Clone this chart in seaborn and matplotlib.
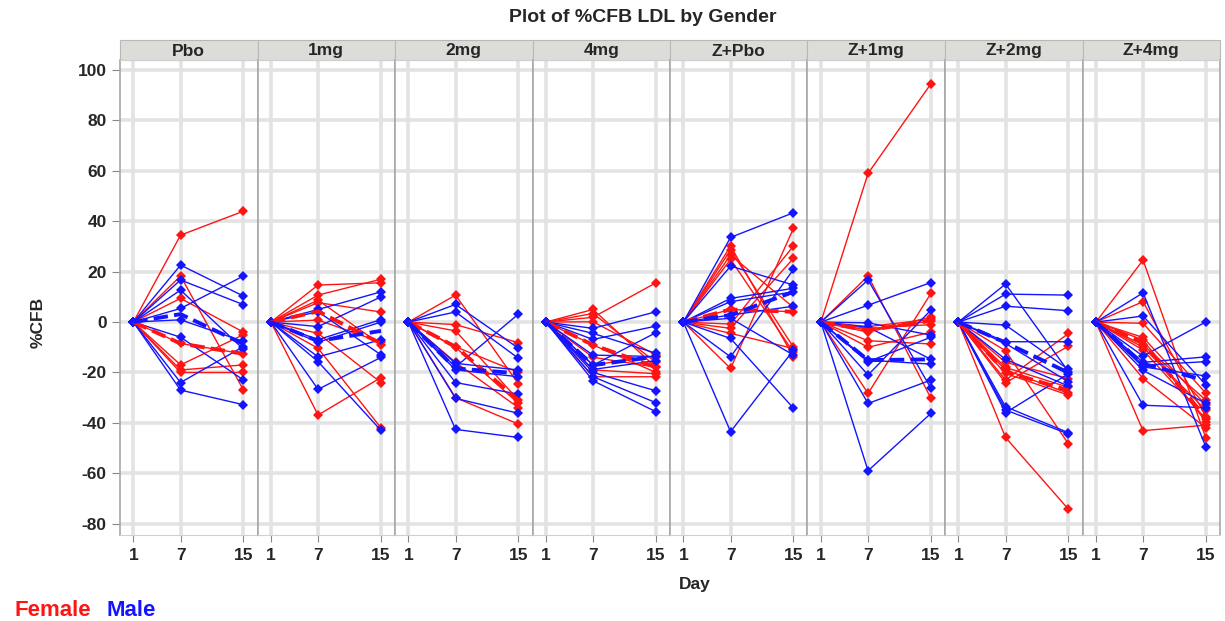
import matplotlib
matplotlib.use('Agg')

import pandas as pd
import matplotlib.pyplot as plt
import seaborn as sns
from matplotlib.patches import Rectangle

panels = ["Pbo", "1mg", "2mg", "4mg", "Z+Pbo", "Z+1mg", "Z+2mg", "Z+4mg"]
days = [1, 7, 15]

# %CFB per subject as (day 7, day 15); day 1 is the baseline (0)
pbo_female = [(34.5, 44), (18.3, -27), (9.4, -4), (-8.5, -12.6), (-17, -5), (-19, -17), (-20, -20)]
pbo_male = [(22.6, 10.3), (16.7, 6.9), (12.7, -10.8), (5.4, 18.3), (0.9, -7.7), (-6, -23), (-24, -9.7), (-27, -32.8)]

mg1_female = [(14.7, 15.6), (10.7, 17), (8.7, -9), (7.7, 4), (0.8, -8), (-4.5, -24), (-10.4, -42), (-36.9, -22)]
mg1_male = [(5, 12), (4.1, -13), (-1.8, 10), (-7, 1), (-8, 0), (-13.8, -7), (-15.7, -43), (-26.7, -14)]

mg2_female = [(10.7, -24.6), (-1, -8.2), (-3.5, -31), (-9.8, -20), (-10, -32.3), (-16, -34), (-30, -40.5)]
mg2_male = [(7, -10.4), (4, -14.4), (-16.4, -19), (-17.8, 3.2), (-19, -21.7), (-24, -28.6), (-30.3, -36.2), (-42.6, -45.8)]

mg4_female = [(5, -18), (3.4, -16), (1.9, 15.6), (0.1, -13), (-9.1, -20), (-14, -17.9), (-17, -13.5), (-19, -20.5), (-21.7, -21.7)]
mg4_male = [(-2.5, 4.1), (-4.5, -12.4), (-6.9, -1.6), (-13.1, -13.7), (-17.1, -4.2), (-18.8, -15.3), (-20, -27.3), (-21.7, -32), (-23.3, -35.6)]

zpbo_female = [(30.2, -13.8), (28.6, -10), (26.6, 5.8), (24.9, -12), (5, 4.1), (-0.8, 30.2), (-2.5, 25.3), (-4.5, -10.5), (-18.4, 37.2)]
zpbo_male = [(33.6, 43.4), (22.2, 14.7), (9.4, 13.4), (8.1, 12), (2.8, 6.3), (1.5, -13.1), (-6.5, -34.2), (-13.8, 20.9), (-43.5, -11.1)]

z1_female = [(59, 94.6), (18.3, -30.3), (-1.8, 1.1), (-2.5, -1), (-3.2, 0.5), (-4, 2), (-7.4, -8.7), (-10, -4), (-28.3, 11.4)]
z1_male = [(16.7, -26.3), (6.7, 15.7), (-0.3, -5.2), (-2, -14.8), (-15.1, -16.7), (-15.7, -6), (-21, 4.8), (-32.3, -23), (-59, -36.2)]

z2_female = [(-11.4, -48.4), (-16, -22.4), (-18, -25.9), (-19, -28.3), (-20.4, -29), (-23, -4.5), (-24.1, -9.5), (-45.8, -74.3)]
z2_male = [(15.1, -19.7), (11.1, 10.7), (6.3, 4.5), (-1.2, -18.8), (-7.8, -7.8), (-8.5, -23.7), (-14.8, -25.4), (-33.6, -43.9), (-34.9, -44.4), (-36, -20.5)]

z4_female = [(24.6, -46.2), (8.1, -37.6), (-0.5, -28.3), (-6.1, -33), (-7.1, -39.6), (-9.1, -31), (-10, -35), (-11.1, -38.5), (-22.4, -42), (-43.1, -40.9)]
z4_male = [(11.6, -49.7), (2.4, -25), (-13.5, 0.1), (-16, -13.8), (-17.1, -15.7), (-17.8, -21.4), (-19.2, -32.3), (-33, -34)]

female = dict(zip(panels, [pbo_female, mg1_female, mg2_female, mg4_female,
                           zpbo_female, z1_female, z2_female, z4_female]))
male = dict(zip(panels, [pbo_male, mg1_male, mg2_male, mg4_male,
                         zpbo_male, z1_male, z2_male, z4_male]))

rows = []
for panel in panels:
    for gender, subjects in (("Female", female[panel]), ("Male", male[panel])):
        for i, (d7, d15) in enumerate(subjects):
            for day, val in zip(days, [0, d7, d15]):
                rows.append({"Panel": panel, "Gender": gender,
                             "Subject": f"{panel}-{gender}-{i}",
                             "Day": day, "CFB": val})
df = pd.DataFrame(rows)

sns.set_style("white")
plt.rcParams['font.family'] = ['Liberation Sans', 'DejaVu Sans']
plt.rcParams['font.weight'] = 'bold'
plt.rcParams['axes.unicode_minus'] = False

palette = {"Female": "#ff1414", "Male": "#1414ff"}

fig, axes = plt.subplots(1, 8, sharey=True, figsize=(12.25, 6.21), dpi=100)
fig.subplots_adjust(left=120/1225, right=1220/1225, top=1-60/621, bottom=1-535/621, wspace=0)

for ax, panel in zip(axes, panels):
    sub = df[df["Panel"] == panel]
    ax.set_axisbelow(True)
    ax.grid(True, color="#e3e3e3", lw=2.6)

    sns.lineplot(data=sub, x="Day", y="CFB", hue="Gender", units="Subject",
                 estimator=None, palette=palette, marker="D", markersize=5.5,
                 markeredgewidth=0, lw=1.0, legend=False, ax=ax)
    # group summary line
    sns.lineplot(data=sub, x="Day", y="CFB", hue="Gender", estimator="median",
                 errorbar=None, palette=palette, lw=2.8, ls="--",
                 legend=False, ax=ax)

    ax.set_xlim(-0.7, 16.78)
    ax.set_ylim(-84.5, 104)
    ax.set_xticks(days)
    ax.set_yticks(range(-80, 101, 20))
    ax.set_xlabel("")
    ax.set_ylabel("")
    for side in ["left", "right"]:
        ax.spines[side].set_color("#a8a8a8")
        ax.spines[side].set_linewidth(1.2)
    for side in ["top", "bottom"]:
        ax.spines[side].set_color("#d0d0d0")
    ax.tick_params(axis="x", length=5, color="#888888", labelsize=12.5, pad=4, bottom=True)
    ax.tick_params(axis="y", length=0 if ax is not axes[0] else 6, color="#888888",
                   labelsize=12.5, left=ax is axes[0])

    # strip header
    ax.add_patch(Rectangle((0, 1), 1, 20/475, transform=ax.transAxes, clip_on=False,
                           facecolor="#dcdcd8", edgecolor="#b8b8b8", lw=0.8))
    ax.text(0.5, 1 + 9/475, panel, transform=ax.transAxes, ha="center", va="center",
            fontsize=12.5, weight="bold")

fig.text(643/1225, 1-17/621, "Plot of %CFB LDL by Gender", ha="center", va="center",
         fontsize=14, weight="bold")
fig.text(38/1225, 1-322/621, "%CFB", rotation=90, ha="center", va="center",
         fontsize=12.5, weight="bold")
fig.text(695/1225, 1-585/621, "Day", ha="center", va="center", fontsize=12.5, weight="bold")
fig.text(15/1225, 1-610/621, "Female", color=palette["Female"], ha="left", va="center",
         fontsize=16, weight="bold")
fig.text(106/1225, 1-610/621, "Male", color=palette["Male"], ha="left", va="center",
         fontsize=16, weight="bold")

fig.savefig("out.png", dpi=100)
